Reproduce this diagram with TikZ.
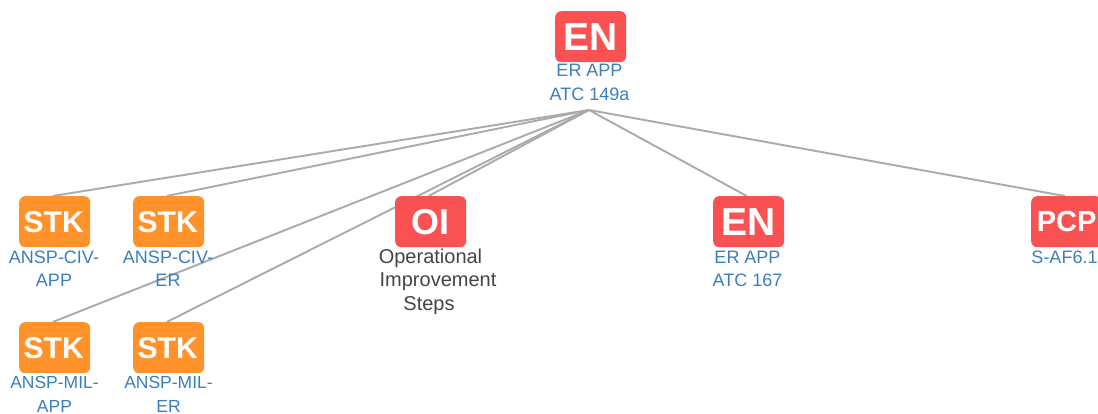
\documentclass[tikz,border=0pt]{standalone}
\usepackage{fontspec}
\setmainfont{Liberation Sans}
\usetikzlibrary{backgrounds}
\definecolor{redbox}{HTML}{FA5252}
\definecolor{orangebox}{HTML}{FF922B}
\definecolor{bluetext}{HTML}{3A7EBF}
\definecolor{darktext}{HTML}{444444}
\definecolor{linkgray}{HTML}{AAAAAA}
\tikzset{
  badge/.style={minimum width=71pt,minimum height=51pt,inner sep=0pt,rounded corners=6pt,text=white,anchor=north west},
  redbadge/.style={badge,fill=redbox},
  orangebadge/.style={badge,fill=orangebox,font=\fontsize{30}{30}\selectfont\bfseries},
  lbl/.style={inner sep=0pt,anchor=base,align=center,text=bluetext,font=\fontsize{18}{24}\selectfont},
  millbl/.style={lbl,font=\fontsize{17.5}{24}\selectfont},
  oilbl/.style={inner sep=0pt,anchor=base,text=darktext,font=\fontsize{20}{24}\selectfont},
  link/.style={draw=linkgray,line width=1.9pt}
}
\begin{document}
\begin{tikzpicture}[x=1pt,y=-1pt]
\useasboundingbox (0,0) rectangle (1098,414);
\coordinate (hub) at (589,110);
\node[redbadge] (root) at (555,11) {\fontsize{39}{39}\selectfont\bfseries EN};
\node[lbl] (rootl) at (589.5,101) {ER APP\\ATC 149a};
\node[orangebadge,text width=71pt,align=center] (civapp) at (19,196) {\hspace*{-2pt}STK};
\node[lbl] (civappl) at (54,287) {ANSP-CIV-\\APP};
\node[orangebadge,text width=71pt,align=center] (civer) at (133,196) {\hspace*{-2pt}STK};
\node[lbl] (civerl) at (168,287) {ANSP-CIV-\\ER};
\node[orangebadge,text width=71pt,align=center] (milapp) at (19,322) {\hspace*{-2pt}STK};
\node[millbl] (milappl) at (54.5,412.5) {ANSP-MIL-\\APP};
\node[orangebadge,text width=71pt,align=center] (miler) at (133,322) {\hspace*{-2pt}STK};
\node[millbl] (milerl) at (168.5,412.5) {ANSP-MIL-\\ER};
\node[redbadge] (oi) at (395,196) {\fontsize{36}{36}\selectfont\bfseries OI};
\node[oilbl] (oia) at (430.5,263) {Operational};
\node[oilbl] (oib) at (438,287) {Improvement};
\node[oilbl] (oic) at (429,310.5) {Steps};
\node[redbadge] (en) at (713,196) {\fontsize{39}{39}\selectfont\bfseries EN};
\node[lbl] (enl) at (747.5,287) {ER APP\\ATC 167};
\node[redbadge] (pcp) at (1031,196) {\fontsize{29}{29}\selectfont\bfseries PCP};
\node[lbl] (pcpl) at (1064.5,263) {S-AF6.1};
\begin{scope}[on background layer]
\draw[link] (hub) -- ([xshift=-2pt]civapp.north);
\draw[link] (hub) -- ([xshift=-2pt]civer.north);
\draw[link] (hub) -- ([xshift=-2pt]milapp.north);
\draw[link] (hub) -- ([xshift=-2pt]miler.north);
\draw[link] (hub) -- ([xshift=-2pt]oi.north);
\draw[link] (hub) -- ([xshift=-2pt]en.north);
\draw[link] (hub) -- ([xshift=-2pt]pcp.north);
\end{scope}
\end{tikzpicture}
\end{document}
